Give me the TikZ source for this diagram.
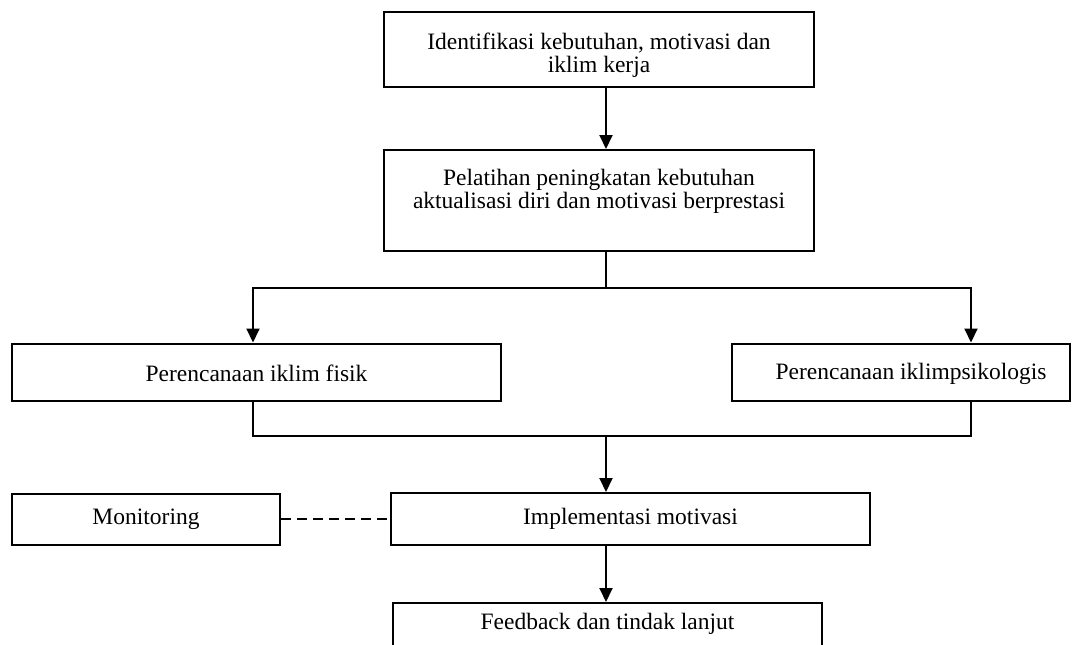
\documentclass[tikz,border=0pt]{standalone}
\usepackage{fontspec}
\setmainfont{Liberation Serif}
\usetikzlibrary{arrows.meta}
\begin{document}
\begin{tikzpicture}[x=1pt,y=-1pt,
  box/.style={draw, line width=2pt, rectangle, inner sep=0pt, align=center,
    font=\fontsize{23.5}{23}\selectfont},
  conn/.style={line width=2pt},
  arr/.style={line width=2pt, -{Triangle[length=14pt,width=13pt]}},
  dashline/.style={line width=2pt, dash pattern=on 10pt off 6pt}]
\useasboundingbox (0,0) rectangle (1077,645);
\fill[white] (0,0) rectangle (1077,645);
\node[box, minimum width=430, minimum height=75] (b1) at (599,49.5)
  {\rule{0pt}{28pt}Identifikasi kebutuhan, motivasi dan\\iklim kerja};
\node[box, minimum width=430, minimum height=101] (b2) at (599,200.5)
  {Pelatihan peningkatan kebutuhan\\aktualisasi diri dan motivasi berprestasi\\\mbox{}};
\node[box, minimum width=489, minimum height=57] (b3) at (256.5,372)
  {\rule{0pt}{20pt}Perencanaan iklim fisik};
\node[box, minimum width=338, minimum height=57] (b4) at (901,372)
  {\rule{0pt}{20pt}\hspace*{20pt}Perencanaan iklimpsikologis};
\node[box, minimum width=479, minimum height=52] (b5) at (630.5,519)
  {Implementasi motivasi};
\node[box, minimum width=268, minimum height=51] (b6) at (146,519)
  {Monitoring};
\node[box, minimum width=429, minimum height=59] (b7) at (607.5,632.5)
  {Feedback dan tindak lanjut\\\mbox{}};
\coordinate (x1) at (606,0);
\coordinate (cl) at (253,0);
\coordinate (cr) at (971,0);
\coordinate (s1) at (606,288);
\coordinate (s2) at (606,436);
\draw[arr] (x1 |- b1.south) -- (x1 |- b2.north);
\draw[conn] (x1 |- b2.south) -- (s1);
\draw[arr] (s1) -| (cl |- b3.north);
\draw[arr] (s1) -| (cr |- b4.north);
\draw[conn] (cl |- b3.south) |- (s2);
\draw[conn] (cr |- b4.south) |- (s2);
\draw[arr] (s2) -- (x1 |- b5.north);
\draw[arr] (x1 |- b5.south) -- (x1 |- b7.north);
\draw[dashline] (b6.east) -- (b5.west);
\end{tikzpicture}
\end{document}
